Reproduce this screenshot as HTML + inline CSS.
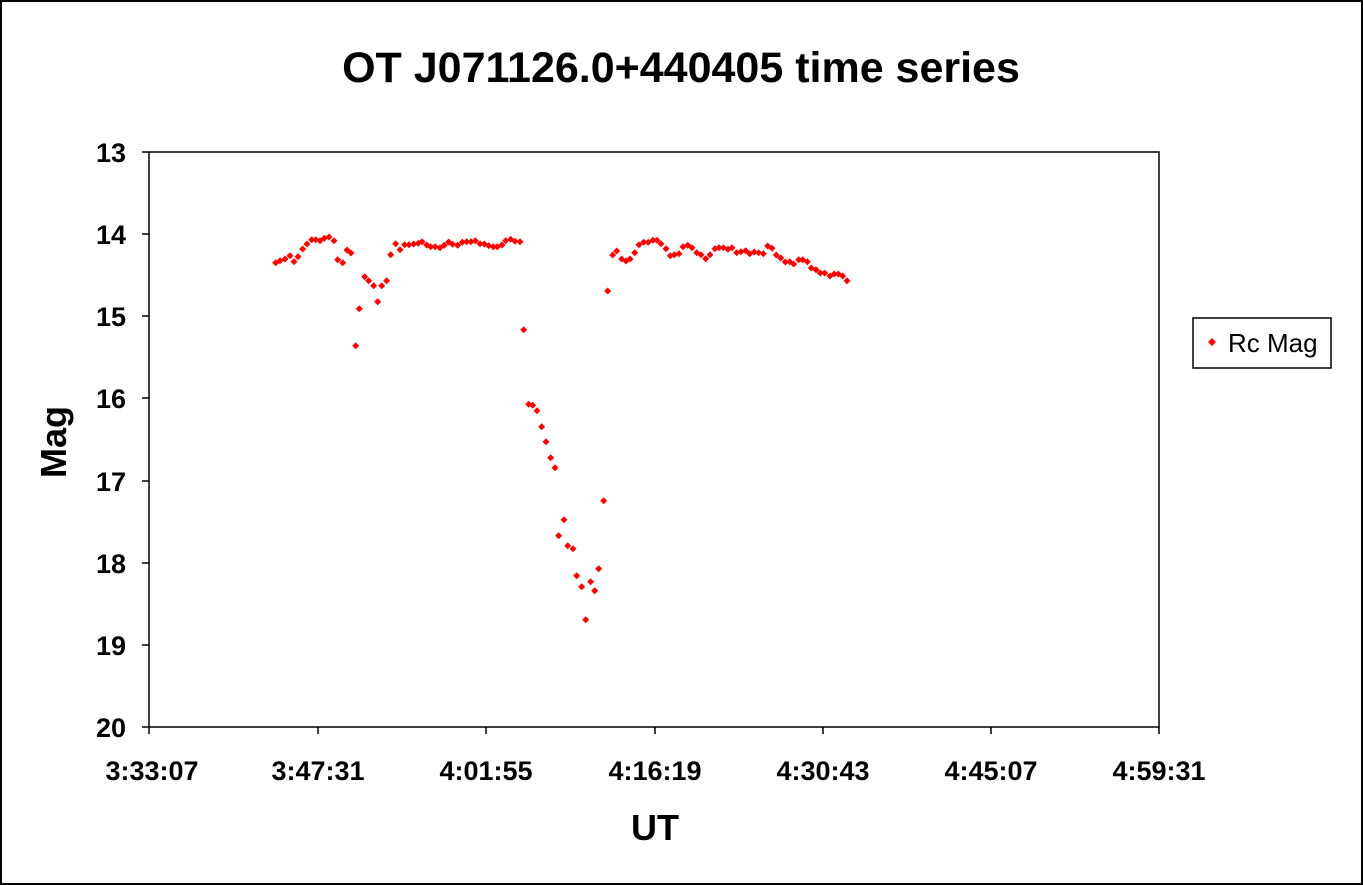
<!DOCTYPE html>
<html><head><style>body{margin:0;background:#fff}svg{display:block}text{font-family:"Liberation Sans",Arial,sans-serif}</style></head><body>
<svg width="1363" height="885" xmlns="http://www.w3.org/2000/svg">
<rect x="1" y="1" width="1361" height="883" fill="#fff" stroke="#000" stroke-width="2"/>
<text x="681" y="82" font-size="43" font-weight="bold" text-anchor="middle">OT J071126.0+440405 time series</text>
<rect x="149" y="152" width="1010" height="575" fill="#fff" stroke="#000" stroke-width="1.5"/>
<g stroke="#000" stroke-width="1.5">
<line x1="142" y1="152" x2="149" y2="152"/><line x1="142" y1="234" x2="149" y2="234"/><line x1="142" y1="316" x2="149" y2="316"/><line x1="142" y1="398" x2="149" y2="398"/><line x1="142" y1="481" x2="149" y2="481"/><line x1="142" y1="563" x2="149" y2="563"/><line x1="142" y1="645" x2="149" y2="645"/><line x1="142" y1="727" x2="149" y2="727"/>
<line x1="149" y1="727" x2="149" y2="734"/><line x1="318" y1="727" x2="318" y2="734"/><line x1="486" y1="727" x2="486" y2="734"/><line x1="655" y1="727" x2="655" y2="734"/><line x1="823" y1="727" x2="823" y2="734"/><line x1="991" y1="727" x2="991" y2="734"/><line x1="1159" y1="727" x2="1159" y2="734"/>
</g>
<g font-size="27" font-weight="bold" text-anchor="end">
<text x="126" y="162">13</text><text x="126" y="244">14</text><text x="126" y="326">15</text><text x="126" y="408">16</text><text x="126" y="491">17</text><text x="126" y="573">18</text><text x="126" y="655">19</text><text x="126" y="737">20</text>
</g>
<g font-size="27" font-weight="bold" text-anchor="middle">
<text x="152" y="780">3:33:07</text><text x="318" y="780">3:47:31</text><text x="486" y="780">4:01:55</text><text x="655" y="780">4:16:19</text><text x="823" y="780">4:30:43</text><text x="991" y="780">4:45:07</text><text x="1159" y="780">4:59:31</text>
</g>
<text x="655" y="840" font-size="36" font-weight="bold" text-anchor="middle">UT</text>
<text transform="translate(66,442) rotate(-90)" font-size="36" font-weight="bold" text-anchor="middle">Mag</text>
<g fill="#f00" id="pts"></g>
<rect x="1193" y="318" width="138" height="50" fill="#fff" stroke="#000" stroke-width="1.5"/>
<path d="M1212 338l4 4-4 4-4-4z" fill="#f00"/>
<text x="1228" y="352" font-size="26">Rc Mag</text>
</svg>
<script>
var p=[[275.7,262.7],[280,260.7],[285,259],[290,255.7],[294,261.7],[298,256.7],[302.7,249],[307,244],[311.7,239.7],[315.7,239.7],[320,240.7],[324.3,238.3],[329,237],[334,240.7],[337.7,259.7],[342.7,262.7],[347,250],[351,253],[355.7,345.7],[359.3,308.7],[364.7,276.7],[368.7,280.7],[373.7,285.7],[377.7,301.7],[381.7,285.7],[386.7,280.7],[390.7,254.7],[395.7,243.7],[400,249.7],[404.7,244.7],[409,244.7],[413.7,244],[418.3,243.3],[422,241.7],[426.7,245],[430.7,246.7],[435,246.7],[440,247.7],[444.3,245.3],[448.7,242],[452.7,244.3],[457.7,245.3],[462.3,242.3],[466.7,241.7],[471,241.7],[475.3,240.7],[480,243.7],[484.3,244],[488.7,245.7],[493.3,246.7],[497.3,246.7],[502,245],[505.7,240.7],[510.7,239.3],[515,241.3],[520,241.7],[523.7,329.7],[528.7,404.3],[532.7,405.3],[537,410.7],[541.7,426.7],[546,441.7],[550.7,457.7],[555,467.7],[564,519.7],[558.7,535.7],[567.7,545.7],[573,548.7],[576.7,575.7],[581.7,586.7],[585.7,619.7],[590.7,581.7],[594.7,590.7],[598.7,568.7],[603.7,500.7],[607.7,291],[612.7,255],[616.7,251],[621.7,259],[626,261],[630,259],[634.7,252.7],[639,244.7],[643.7,242.3],[648.3,242.3],[653,240.3],[657,240.3],[661,243.7],[666,248.7],[670.3,255.7],[674.3,254.7],[679,253.7],[683,246.7],[687.7,245.3],[692,247.7],[696.7,252.7],[701,254.7],[705.7,258.7],[710,254.7],[715,248.7],[719,247.7],[723.3,247.7],[728,249.3],[732,247.7],[736.7,252.7],[741,251.7],[745.7,250.7],[749.7,253.7],[754.3,252],[758.7,252.7],[763.3,253.7],[767.7,246],[772,248.3],[776.3,255],[780.7,258],[785.3,262],[789.7,261.7],[793.7,264],[798.7,259.7],[802.7,259.7],[807.3,261.7],[811.3,268],[816,269.7],[820.3,273],[824.7,273],[830,276],[834.3,274],[838.3,274],[842.7,276],[847,280.7]];
var g=document.getElementById('pts'),s='';
p.forEach(function(a){s+='<path d="M'+a[0]+' '+(a[1]-3.5)+'l3.5 3.5-3.5 3.5-3.5-3.5z"/>';});
g.innerHTML=s;
</script>
</body></html>
